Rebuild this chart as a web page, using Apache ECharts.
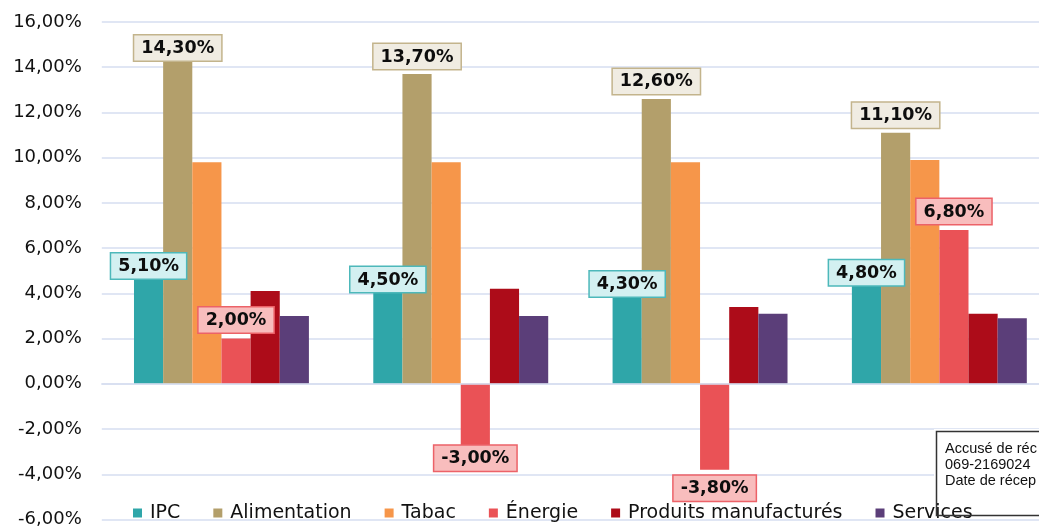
<!DOCTYPE html>
<html>
<head>
<meta charset="utf-8">
<script src="https://cdn.jsdelivr.net/npm/echarts@6/dist/echarts.min.js"></script>
<style>
html,body{margin:0;padding:0;background:#fff;}
#chart{width:1039px;height:527px;}
</style>
</head>
<body>
<div id="chart"></div>
<script>
const categories = ['mai-23', 'juin-23', 'juil-23', 'août-23'];
const seriesNames = ['IPC', 'Alimentation', 'Tabac', 'Énergie', 'Produits manufacturés', 'Services'];
const ipc = [5.1, 4.5, 4.3, 4.8];
const alimentation = [14.3, 13.7, 12.6, 11.1];
const tabac = [9.8, 9.8, 9.8, 9.9];
const energie = [2.0, -3.0, -3.8, 6.8];
const produits = [4.1, 4.2, 3.4, 3.1];
const services = [3.0, 3.0, 3.1, 2.9];
const yMin = -6, yMax = 16, yStep = 2;
const stampLines = ['Accusé de réc', '069-2169024', 'Date de récep'];

const FONT = 'DejaVu Sans';
const fmtPct = v => v.toFixed(2).replace('.', ',') + '%';
const colors = ['#2fa6a9', '#b39f6b', '#f6964a', '#ea5256', '#ad0c19', '#5b3e79'];

function boxLabel(bg, border, position, distance) {
  return {
    show: true, position: position, distance: distance,
    formatter: p => fmtPct(p.value),
    fontFamily: FONT, fontWeight: 'bold', fontSize: 17.5, color: '#0d0d0d',
    backgroundColor: bg, borderColor: border, borderWidth: 1.5,
    padding: [4, 7, 3, 7]
  };
}

function bar(name, data, color, label) {
  return {
    name: name, type: 'bar', data: data,
    itemStyle: { color: color },
    barGap: '0%', barCategoryGap: '26.9%',
    label: label || { show: false }
  };
}

const alimData = alimentation.map((v, i) => i === 0 ? { value: v, label: { distance: 0 } } : v);
const energieData = energie.map((v, i) => i === 1 ? { value: v, label: { distance: -6 } } : v);

const option = {
  animation: false,
  backgroundColor: '#ffffff',
  color: colors,
  grid: { left: 101.8, right: -20, top: 22, bottom: 7.5, containLabel: false, outerBoundsMode: 'none' },
  xAxis: {
    type: 'category', data: categories, z: 3,
    axisLine: { show: true, lineStyle: { color: '#d6def0', width: 1.5 } },
    axisTick: { show: false },
    axisLabel: { fontFamily: FONT, fontSize: 18.5, color: '#111', margin: 9 }
  },
  yAxis: {
    type: 'value', min: yMin, max: yMax, interval: yStep,
    axisLine: { show: false }, axisTick: { show: false },
    splitLine: { show: true, lineStyle: { color: '#d6def0', width: 1.5 } },
    axisLabel: { fontFamily: FONT, fontSize: 18, color: '#111', margin: 20, formatter: v => fmtPct(v) }
  },
  legend: {
    left: 133, top: 503, padding: 0, itemGap: 33,
    itemWidth: 9, itemHeight: 9, icon: 'rect',
    textStyle: { fontFamily: FONT, fontSize: 19, color: '#111', lineHeight: 20, padding: [0, 0, 0, 3] },
    data: seriesNames
  },
  series: [
    bar(seriesNames[0], ipc, colors[0], boxLabel('#d3f0f1', '#4db8ba', 'top', -10)),
    bar(seriesNames[1], alimData, colors[1], boxLabel('#f0ece2', '#c3b48c', 'top', 5)),
    bar(seriesNames[2], tabac, colors[2]),
    bar(seriesNames[3], energieData, colors[3], boxLabel('#f8bdbd', '#ec6268', 'outside', 6)),
    bar(seriesNames[4], produits, colors[4]),
    bar(seriesNames[5], services, colors[5])
  ],
  graphic: [
    { type: 'rect', left: 934, top: 429, z: 3, silent: true,
      shape: { width: 200, height: 84 }, style: { fill: '#ffffff' } },
    { type: 'rect', left: 934, top: 429, z: 10, silent: true,
      shape: { width: 200, height: 84 }, style: { fill: 'none', stroke: '#333', lineWidth: 1.5 } },
    { type: 'text', left: 945, top: 441, z: 11, silent: true,
      style: { text: stampLines.join('\n'), font: '14.5px "Liberation Sans"', fill: '#111', lineHeight: 16 } }
  ]
};

const chart = echarts.init(document.getElementById('chart'), null, { renderer: 'canvas' });
chart.setOption(option);
</script>
</body>
</html>
